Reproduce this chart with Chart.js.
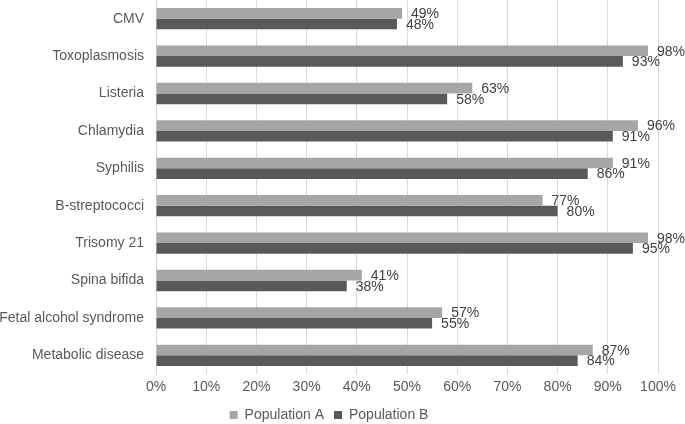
<!DOCTYPE html>
<html>
<head>
<meta charset="utf-8">
<script src="https://cdn.jsdelivr.net/npm/chart.js@4/dist/chart.umd.min.js"></script>
<style>
  html, body { margin: 0; padding: 0; background: #fff; }
  #wrap { width: 685px; height: 424px; position: relative; }
</style>
</head>
<body>
<div id="wrap"><canvas id="chart"></canvas></div>
<script>
const categories = ["CMV", "Toxoplasmosis", "Listeria", "Chlamydia", "Syphilis", "B-streptococci",
  "Trisomy 21", "Spina bifida", "Fetal alcohol syndrome", "Metabolic disease"];
const popA = [49, 98, 63, 96, 91, 77, 98, 41, 57, 87];
const popB = [48, 93, 58, 91, 86, 80, 95, 38, 55, 84];
const seriesNames = ["Population A", "Population B"];

const FONT = "'Liberation Sans', Arial, sans-serif";
const TEXT = "#595959";

// value labels to the right of each bar end
const valueLabels = {
  id: "valueLabels",
  afterDatasetsDraw(chart) {
    const ctx = chart.ctx;
    ctx.save();
    ctx.font = "14px " + FONT;
    ctx.fillStyle = "#404040";
    ctx.textAlign = "left";
    ctx.textBaseline = "middle";
    chart.data.datasets.forEach((ds, i) => {
      chart.getDatasetMeta(i).data.forEach((bar, j) => {
        ctx.fillText(ds.data[j] + "%", bar.x + 9, bar.y + 1);
      });
    });
    ctx.restore();
  },
};

new Chart(document.getElementById("chart"), {
  type: "bar",
  data: {
    labels: categories,
    datasets: [
      { label: seriesNames[0], data: popA, backgroundColor: "#a6a6a6" },
      { label: seriesNames[1], data: popB, backgroundColor: "#595959" },
    ],
  },
  options: {
    indexAxis: "y",
    responsive: true,
    maintainAspectRatio: false,
    animation: false,
    categoryPercentage: 0.57,
    barPercentage: 1.0,
    layout: { autoPadding: false, padding: { left: 0, right: 27, top: 0, bottom: -8 } },
    scales: {
      x: {
        min: 0,
        max: 100,
        ticks: { stepSize: 10, callback: (v) => v + "%", color: TEXT, font: { family: FONT, size: 14 }, padding: 5 },
        grid: { color: "#d9d9d9", drawTicks: false },
        border: { display: false },
        afterFit: (s) => { s.height = 24; },
      },
      y: {
        ticks: { color: TEXT, font: { family: FONT, size: 14 }, padding: 12 },
        grid: { display: false, drawTicks: false },
        border: { display: true, color: "#d9d9d9" },
        afterFit: (s) => { s.width = 156; s.paddingTop = 0; s.paddingBottom = 0; },
      },
    },
    plugins: {
      legend: {
        position: "bottom",
        labels: { boxWidth: 8, boxHeight: 8, color: TEXT, font: { family: FONT, size: 14 }, padding: 10 },
      },
      tooltip: { enabled: false },
    },
  },
  plugins: [valueLabels],
});
</script>
</body>
</html>
